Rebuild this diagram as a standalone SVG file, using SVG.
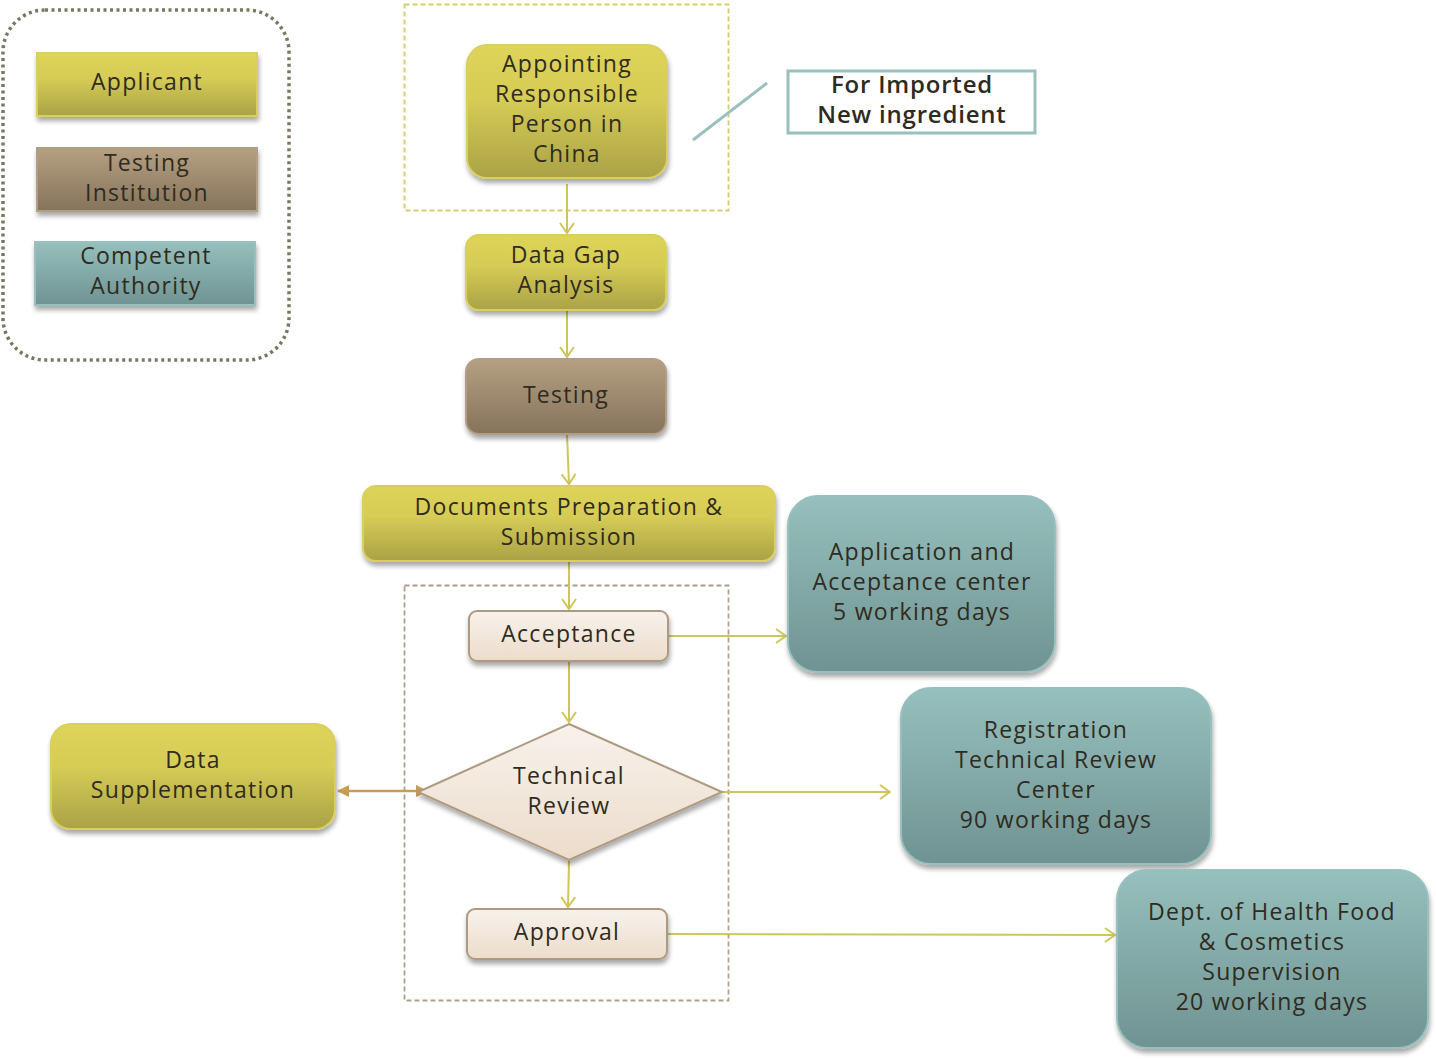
<svg xmlns="http://www.w3.org/2000/svg" width="1436" height="1060" viewBox="0 0 1436 1060">
<defs>
<linearGradient id="gY" x1="0" y1="0" x2="0" y2="1"><stop offset="0" stop-color="#ded45a"/><stop offset="0.4" stop-color="#d6cc56"/><stop offset="1" stop-color="#aaa246"/></linearGradient>
<linearGradient id="gB" x1="0" y1="0" x2="0" y2="1"><stop offset="0" stop-color="#b5a082"/><stop offset="1" stop-color="#85735b"/></linearGradient>
<linearGradient id="gT" x1="0" y1="0" x2="0" y2="1"><stop offset="0" stop-color="#96c0bd"/><stop offset="1" stop-color="#6f9392"/></linearGradient>
<linearGradient id="gC" x1="0" y1="0" x2="0" y2="1"><stop offset="0" stop-color="#f8f2ec"/><stop offset="1" stop-color="#ecdccb"/></linearGradient>
<filter id="sh" x="-10%" y="-10%" width="120%" height="130%"><feGaussianBlur in="SourceAlpha" stdDeviation="2.5"/><feOffset dx="1" dy="4" result="b"/><feComponentTransfer><feFuncA type="linear" slope="0.35"/></feComponentTransfer><feMerge><feMergeNode/><feMergeNode in="SourceGraphic"/></feMerge></filter>
<marker id="ah" viewBox="0 0 12 16" refX="11" refY="8" markerWidth="12" markerHeight="16" markerUnits="userSpaceOnUse" orient="auto"><path d="M1,1 L11,8 L1,15" fill="none" stroke="#cfc65a" stroke-width="2"/></marker>
<marker id="ahB" viewBox="0 0 12 12" refX="11" refY="6" markerWidth="12" markerHeight="12" markerUnits="userSpaceOnUse" orient="auto-start-reverse"><path d="M0,0 L12,6 L0,12 Z" fill="#c99b55"/></marker>
</defs>
<style>
text{font-family:"Open Sans","DejaVu Sans",sans-serif;font-size:23px;fill:#2f2b20;text-anchor:middle;letter-spacing:1.3px}
.y{fill:url(#gY);stroke:#d8cf5c;stroke-width:2;filter:url(#sh)}
.b{fill:url(#gB);stroke:#b09e86;stroke-width:2;filter:url(#sh)}
.t{fill:url(#gT);stroke:#98c0bd;stroke-width:2;filter:url(#sh)}
.c{fill:url(#gC);stroke:#ae9a80;stroke-width:2;filter:url(#sh)}
.con{fill:none;stroke:#cfc65a;stroke-width:2;marker-end:url(#ah)}
.bold{font-weight:600;font-size:24px;letter-spacing:0.8px}
</style>
<rect x="0" y="0" width="1436" height="1060" fill="#ffffff"/>

<g id="legend">
<rect x="3" y="10" width="286" height="350" rx="42" fill="none" stroke="#7a7660" stroke-width="3.5" stroke-dasharray="3,3.5"/>
<g id="legend-applicant"><rect class="y" x="37" y="53" width="220" height="63"/><text x="147" y="90">Applicant</text></g>
<g id="legend-testing"><rect class="b" x="37" y="148" width="220" height="63"/><text x="147" y="171">Testing</text><text x="147" y="201">Institution</text></g>
<g id="legend-authority"><rect class="t" x="35" y="242" width="220" height="63"/><text x="146" y="264">Competent</text><text x="146" y="294">Authority</text></g>
</g>

<g id="groups">
<rect x="404.5" y="4.5" width="324" height="206" fill="none" stroke="#d3cb6e" stroke-width="1.8" stroke-dasharray="5,3"/>
<rect x="404.5" y="585.5" width="324" height="415" fill="none" stroke="#b09e86" stroke-width="1.8" stroke-dasharray="5,3"/>
</g>

<g id="connectors">
<line class="con" x1="567" y1="184" x2="567" y2="233"/>
<line class="con" x1="567" y1="311" x2="567" y2="357"/>
<line class="con" x1="567" y1="434" x2="569" y2="484"/>
<line class="con" x1="569" y1="562" x2="569" y2="609"/>
<line class="con" x1="569" y1="662" x2="569" y2="722"/>
<line class="con" x1="569" y1="861" x2="568" y2="907"/>
<line class="con" x1="668" y1="636" x2="786" y2="636"/>
<line class="con" x1="722" y1="792" x2="890" y2="792"/>
<line class="con" x1="668" y1="934" x2="1115" y2="935"/>
<line x1="338" y1="791" x2="427" y2="791" stroke="#c99b55" stroke-width="2.5" marker-start="url(#ahB)" marker-end="url(#ahB)"/>
<line x1="693" y1="140" x2="767" y2="83" stroke="#9bbfbd" stroke-width="3"/>
</g>

<g id="appointing"><rect class="y" x="467" y="45" width="200" height="133" rx="20"/>
<text x="567" y="72">Appointing</text><text x="567" y="102">Responsible</text><text x="567" y="132">Person in</text><text x="567" y="162">China</text></g>

<g id="imported-note"><rect x="788" y="71" width="247" height="62" fill="#ffffff" stroke="#98c0bd" stroke-width="3"/>
<text class="bold" x="912" y="93">For Imported</text><text class="bold" x="912" y="123">New ingredient</text></g>

<g id="data-gap"><rect class="y" x="466" y="235" width="200" height="75" rx="13"/>
<text x="566" y="263">Data Gap</text><text x="566" y="293">Analysis</text></g>

<g id="testing"><rect class="b" x="466" y="359" width="200" height="75" rx="13"/>
<text x="566" y="403">Testing</text></g>

<g id="documents"><rect class="y" x="363" y="486" width="412" height="75" rx="13"/>
<text x="569" y="515">Documents Preparation &amp;</text><text x="569" y="545">Submission</text></g>

<g id="acceptance"><rect class="c" x="469" y="611" width="199" height="50" rx="8"/>
<text x="569" y="642">Acceptance</text></g>

<g id="technical-review"><polygon class="c" points="569,724 722,792 569,860 418,792"/>
<text x="569" y="784">Technical</text><text x="569" y="814">Review</text></g>

<g id="approval"><rect class="c" x="467" y="909" width="200" height="50" rx="8"/>
<text x="567" y="940">Approval</text></g>

<g id="data-supplementation"><rect class="y" x="51" y="724" width="284" height="105" rx="20"/>
<text x="193" y="768">Data</text><text x="193" y="798">Supplementation</text></g>

<g id="acceptance-center"><rect class="t" x="788" y="496" width="267" height="176" rx="30"/>
<text x="922" y="560">Application and</text><text x="922" y="590">Acceptance center</text><text x="922" y="620">5 working days</text></g>

<g id="review-center"><rect class="t" x="901" y="688" width="310" height="176" rx="30"/>
<text x="1056" y="738">Registration</text><text x="1056" y="768">Technical Review</text><text x="1056" y="798">Center</text><text x="1056" y="828">90 working days</text></g>

<g id="dept"><rect class="t" x="1117" y="870" width="311" height="178" rx="30"/>
<text x="1272" y="920">Dept. of Health Food</text><text x="1272" y="950">&amp; Cosmetics</text><text x="1272" y="980">Supervision</text><text x="1272" y="1010">20 working days</text></g>
</svg>
